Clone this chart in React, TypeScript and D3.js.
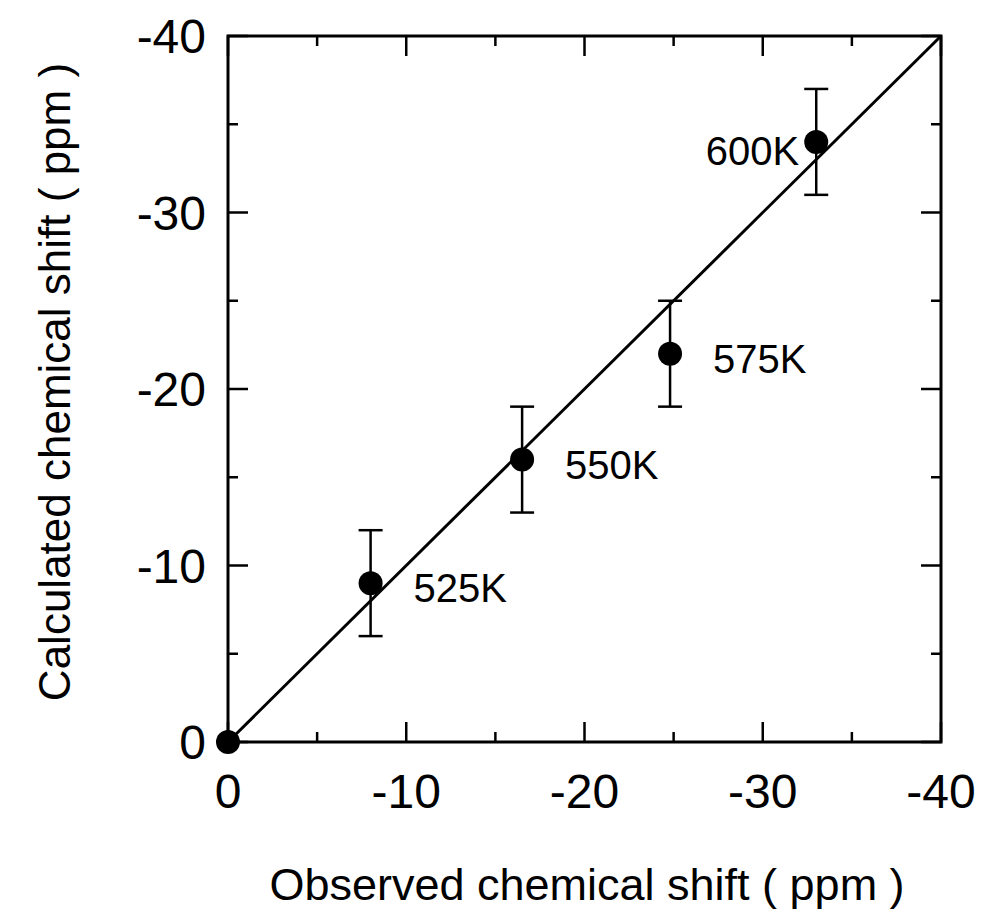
import React, { useEffect, useRef } from 'react';
import * as d3 from 'd3';

const observed = [0, -8, -16.5, -24.8, -33];
const calculated = [0, -9, -16, -22, -34];
const errors = [0, 3, 3, 3, 3];
const tempLabels = ['', '525K', '550K', '575K', '600K'];
const majorTicks = [0, -10, -20, -30, -40];
const minorTicks = [-5, -15, -25, -35];

export default function App() {
  const ref = useRef<SVGSVGElement>(null);

  useEffect(() => {
    const svg = d3.select(ref.current);
    svg.selectAll('*').remove();

    const left = 228, right = 941, top = 36, bottom = 742;
    const x = d3.scaleLinear().domain([0, -40]).range([left, right]);
    const y = d3.scaleLinear().domain([0, -40]).range([bottom, top]);
    const font = 'Liberation Sans, Arial, sans-serif';

    const g = svg.append('g');

    // ticks, inward on all four sides
    const tick = (v: number, len: number) => {
      g.append('line').attr('x1', x(v)).attr('x2', x(v)).attr('y1', bottom).attr('y2', bottom - len);
      g.append('line').attr('x1', x(v)).attr('x2', x(v)).attr('y1', top).attr('y2', top + len);
      g.append('line').attr('y1', y(v)).attr('y2', y(v)).attr('x1', left).attr('x2', left + len);
      g.append('line').attr('y1', y(v)).attr('y2', y(v)).attr('x1', right).attr('x2', right - len);
    };
    majorTicks.forEach((v) => tick(v, 20));
    minorTicks.forEach((v) => tick(v, 10));
    g.selectAll('line').attr('stroke', '#000').attr('stroke-width', 2.5);

    g.append('rect')
      .attr('x', left).attr('y', top)
      .attr('width', right - left).attr('height', bottom - top)
      .attr('fill', 'none').attr('stroke', '#000').attr('stroke-width', 3);

    // tick labels
    majorTicks.forEach((v) => {
      svg.append('text')
        .attr('x', x(v)).attr('y', 808)
        .attr('text-anchor', 'middle')
        .attr('font-family', font).attr('font-size', 48)
        .text(v === 0 ? '0' : `${v}`);
      svg.append('text')
        .attr('x', 206).attr('y', y(v) + 17)
        .attr('text-anchor', 'end')
        .attr('font-family', font).attr('font-size', 48)
        .text(v === 0 ? '0' : `${v}`);
    });

    // diagonal line
    svg.append('line')
      .attr('x1', x(0)).attr('y1', y(0))
      .attr('x2', x(-40)).attr('y2', y(-40))
      .attr('stroke', '#000').attr('stroke-width', 3);

    // error bars
    observed.forEach((ox, i) => {
      if (!errors[i]) return;
      const cx = x(ox);
      const y1 = y(calculated[i] - errors[i]);
      const y2 = y(calculated[i] + errors[i]);
      svg.append('line').attr('x1', cx).attr('x2', cx).attr('y1', y1).attr('y2', y2)
        .attr('stroke', '#000').attr('stroke-width', 2.5);
      [y1, y2].forEach((yy) =>
        svg.append('line').attr('x1', cx - 12).attr('x2', cx + 12).attr('y1', yy).attr('y2', yy)
          .attr('stroke', '#000').attr('stroke-width', 2.5));
    });

    // points
    svg.selectAll('circle.pt')
      .data(observed)
      .enter()
      .append('circle')
      .attr('class', 'pt')
      .attr('cx', (d) => x(d))
      .attr('cy', (_, i) => y(calculated[i]))
      .attr('r', 12)
      .attr('fill', '#000');

    // point labels
    observed.forEach((ox, i) => {
      if (!tempLabels[i]) return;
      const isLast = i === observed.length - 1;
      svg.append('text')
        .attr('x', isLast ? x(ox) - 17 : x(ox) + 43)
        .attr('y', y(calculated[i]) + (isLast ? 23 : 19))
        .attr('text-anchor', isLast ? 'end' : 'start')
        .attr('font-family', font).attr('font-size', 40)
        .text(tempLabels[i]);
    });

    // axis titles
    svg.append('text')
      .attr('x', 587).attr('y', 900)
      .attr('text-anchor', 'middle')
      .attr('font-family', font).attr('font-size', 45)
      .text('Observed chemical shift ( ppm )');

    svg.append('text')
      .attr('transform', 'translate(70,382) rotate(-90)')
      .attr('text-anchor', 'middle')
      .attr('font-family', font).attr('font-size', 44)
      .text('Calculated chemical shift ( ppm )');
  }, []);

  return (
    <svg ref={ref} width={1002} height={911}
      style={{ position: 'absolute', left: 0, top: 0, background: '#fff' }} />
  );
}
